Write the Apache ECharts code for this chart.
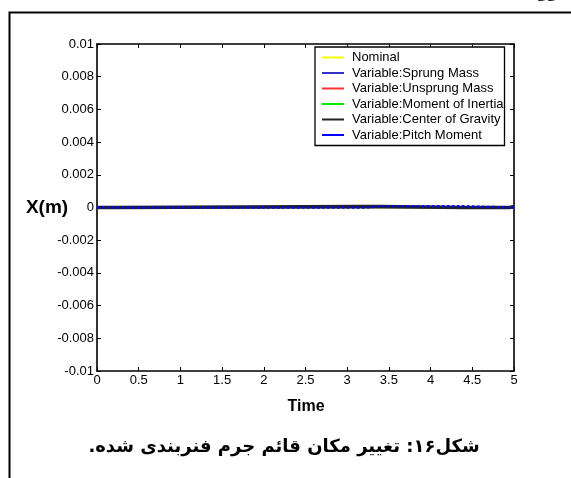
<!DOCTYPE html>
<html><head><meta charset="utf-8">
<script src="https://cdn.jsdelivr.net/npm/echarts@6/dist/echarts.min.js"></script>
<style>html,body{margin:0;padding:0;background:#fff}#c{width:571px;height:478px}</style>
</head><body><div id="c"></div>
<script>
// ---- data ----
const time = [0, 0.24, 3.21, 3.39, 4.39, 4.95, 5];
const nominal        = [0, 0, 0, 0, 0, 0, 0];
const sprungMass     = [0, 0, 0, 0, 0, 0, 0];
const unsprungMass   = [0, 0, 0, 0, 0, 0, 0];
const momentInertia  = [0, 0, 0, 0, 0, 0, 0];
const centerGravity  = [0, 0.00006, 0.00006, 0, 0, 0.00006, 0.00006];
const pitchMoment    = [0, 0, 0.00007, 0.00007, 0, 0, 0];
const seriesNames = ['Nominal','Variable:Sprung Mass','Variable:Unsprung Mass','Variable:Moment of Inertia','Variable:Center of Gravity','Variable:Pitch Moment'];
const xTicks = ['0','0.5','1','1.5','2','2.5','3','3.5','4','4.5','5'];
const yTicks = ['-0.01','-0.008','-0.006','-0.004','-0.002','0','0.002','0.004','0.006','0.008','0.01'];

const colors = ['#ffff00','#3333cc','#ff3333','#00ee00','#222222','#0000ff'];
const allData = [nominal, sprungMass, unsprungMass, momentInertia, centerGravity, pitchMoment];
const widths = [1.5,1.5,1.5,1.5,3.5,2.5];
const types = ['solid','solid','solid','solid','solid','dotted'];

const chart = echarts.init(document.getElementById('c'));
const series = allData.map((arr,i)=>({
  name: seriesNames[i], type:'line', step:'end', symbol:'none', animation:false,
  data: arr.map((v,j)=>[time[j], v]),
  lineStyle:{color:colors[i], width:widths[i], type:types[i]},
  itemStyle:{color:colors[i]}
}));
const font = 'Liberation Sans, Arial, sans-serif';
const axisLineStyle = {color:'#000', width:1.6};
chart.setOption({
  animation:false,
  grid:{left:97, right:57, top:44, bottom:107},
  xAxis:[{type:'value', min:0, max:5, interval:0.5,
    axisLine:{onZero:false, lineStyle:axisLineStyle},
    axisTick:{inside:true, length:4, lineStyle:{color:'#000'}},
    axisLabel:{color:'#000', fontSize:13, fontFamily:font, margin:3,
      formatter:(v)=>{const i=Math.round(v/0.5);return xTicks[i]!==undefined?xTicks[i]:'';}},
    splitLine:{show:false}},
   {type:'value', position:'top', min:0, max:5, interval:0.5,
    axisLine:{onZero:false, lineStyle:axisLineStyle},
    axisTick:{inside:true, length:4, lineStyle:{color:'#000'}},
    axisLabel:{show:false}, splitLine:{show:false}}],
  yAxis:[{type:'value', min:-0.01, max:0.01, interval:0.002,
    axisLine:{show:true, onZero:false, lineStyle:axisLineStyle},
    axisTick:{show:true, inside:true, length:4, lineStyle:{color:'#000'}},
    axisLabel:{color:'#000', fontSize:13, fontFamily:font, margin:3,
      formatter:(v)=>{const i=Math.round((v+0.01)/0.002);return yTicks[i]!==undefined?yTicks[i]:'';}},
    splitLine:{show:false}},
   {type:'value', position:'right', min:-0.01, max:0.01, interval:0.002,
    axisLine:{show:true, onZero:false, lineStyle:axisLineStyle},
    axisTick:{show:true, inside:true, length:4, lineStyle:{color:'#000'}},
    axisLabel:{show:false}, splitLine:{show:false}}],
  legend:{orient:'vertical', left:315, top:47, width:190,
    backgroundColor:'#fff', borderColor:'#000', borderWidth:1.3,
    padding:[4,1,4,7], itemWidth:22, itemHeight:2, itemGap:2.5,
    textStyle:{fontSize:13, fontFamily:font, color:'#000', padding:[0,0,0,3], lineHeight:13},
    data: seriesNames.map((n,i)=>({name:n, icon:'rect', itemStyle:{color:colors[i]}}))
  },
  series: series,
  graphic:[
    {type:'rect', shape:{x:9.5,y:12.5,width:700,height:700}, style:{fill:'none', stroke:'#000', lineWidth:2}, silent:true},
    {type:'text', x:47, y:208, style:{text:'X(m)', font:'bold 19px '+font, fill:'#000', align:'center', verticalAlign:'middle'}},
    {type:'text', x:306, y:407, style:{text:'Time', font:'bold 16px '+font, fill:'#000', align:'center', verticalAlign:'middle'}},
    {type:'text', x:284, y:447, style:{text:'\u200Fشکل۱۶: تغییر مکان قائم جرم فنربندی شده.\u200F', font:'bold 18px "DejaVu Sans", sans-serif', fill:'#000', align:'center', verticalAlign:'middle'}},
    {type:'text', x:549, y:-7, style:{text:'وو', font:'bold 16px "DejaVu Sans", sans-serif', fill:'#000', align:'center', verticalAlign:'middle'}}
  ]
});
</script></body></html>
